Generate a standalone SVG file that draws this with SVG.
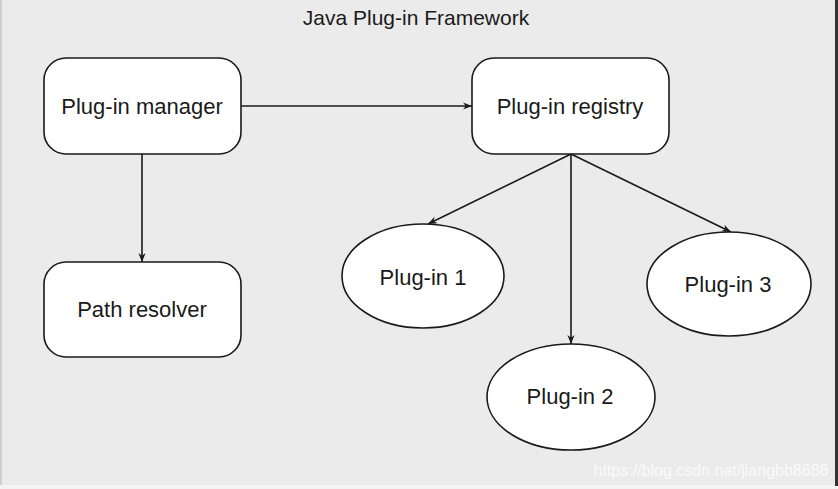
<svg xmlns="http://www.w3.org/2000/svg" width="838" height="489" viewBox="0 0 838 489">
<style>
.box{fill:#fff;stroke:#1a1a1a;stroke-width:1.6}
.lbl{font-family:"Liberation Sans",Arial,sans-serif;font-size:22px;fill:#1a1a1a;text-anchor:middle}
.edge{stroke:#1a1a1a;stroke-width:1.6;fill:none;marker-end:url(#ah)}
</style>
<defs>
<marker id="ah" viewBox="0 0 10 10" refX="10" refY="5" markerWidth="9" markerHeight="9" markerUnits="userSpaceOnUse" orient="auto">
<path d="M0,1 L10,5 L0,9 L3,5 z" fill="#1a1a1a"/>
</marker>
</defs>
<rect x="0" y="0" width="838" height="489" fill="#f4f4f4"/>
<rect x="0" y="0" width="836" height="485" fill="#ebebeb"/>
<rect x="0" y="0" width="2" height="485" fill="#d0d0d0"/>
<rect x="835" y="0" width="3" height="486" fill="#333"/>
<text x="416" y="25" style="font-family:'Liberation Sans',Arial,sans-serif;font-size:21px;fill:#1a1a1a;text-anchor:middle">Java Plug-in Framework</text>
<g id="connectors">
<line class="edge" x1="241" y1="106" x2="472" y2="106"/>
<line class="edge" x1="142" y1="154" x2="142" y2="262"/>
<line class="edge" x1="571" y1="154" x2="428" y2="224"/>
<line class="edge" x1="571" y1="154" x2="571" y2="344"/>
<line class="edge" x1="571" y1="154" x2="731" y2="232"/>
</g>
<g id="manager"><rect class="box" x="44" y="58" width="197" height="96" rx="22"/><text class="lbl" x="142" y="114">Plug-in manager</text></g>
<g id="registry"><rect class="box" x="472" y="58" width="197" height="96" rx="22"/><text class="lbl" x="570" y="114">Plug-in registry</text></g>
<g id="resolver"><rect class="box" x="44" y="262" width="197" height="95" rx="22"/><text class="lbl" x="142" y="317">Path resolver</text></g>
<g id="plugin1"><ellipse class="box" cx="423" cy="276" rx="81" ry="52"/><text class="lbl" x="423" y="285">Plug-in 1</text></g>
<g id="plugin2"><ellipse class="box" cx="571" cy="397" rx="84" ry="53"/><text class="lbl" x="570" y="404">Plug-in 2</text></g>
<g id="plugin3"><ellipse class="box" cx="729" cy="284" rx="82" ry="52"/><text class="lbl" x="728" y="292">Plug-in 3</text></g>
<text x="711" y="476" style="font-family:'Liberation Sans',Arial,sans-serif;font-size:16px;fill:#fafafa;text-anchor:middle">https://blog.csdn.net/jiangbb8686</text>
</svg>
